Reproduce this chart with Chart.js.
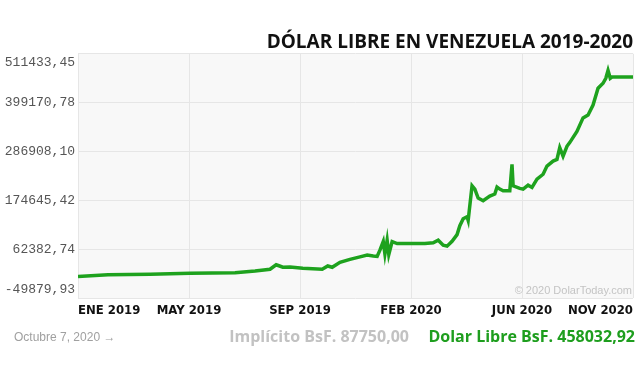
<!DOCTYPE html>
<html>
<head>
<meta charset="utf-8">
<script src="https://cdn.jsdelivr.net/npm/chart.js@4"></script>
<style>
  html, body { margin: 0; padding: 0; background: #fff; }
</style>
</head>
<body>
<canvas id="dolarLibreChart" width="640" height="376"></canvas>
<script>
// position on the time axis (0 = ENE 2019, 100 = NOV 2020) and price in BsS
const dayIndex = [
  0, 5.4, 13, 20.2, 28.3, 31.9, 34.6, 35.7, 36.2, 36.9,
  38.2, 40.5, 44.0, 45.0, 45.8, 47.2, 49.0, 50.8, 52.1, 53.2,
  53.9, 54.4, 55.0, 55.3, 55.7, 56.0, 56.6, 57.5, 59.8, 62.5,
  64.0, 64.9, 65.8, 66.5, 67.4, 68.3, 68.8, 69.4, 70.1, 70.3,
  71.0, 71.5, 72.1, 73.0, 74.2, 75.1, 75.5, 76.0, 76.6, 77.8,
  78.2, 78.4, 79.6, 80.2, 81.1, 81.8, 82.7, 83.8, 84.5, 85.6,
  86.3, 86.8, 87.4, 88.1, 88.6, 89.9, 91.0, 91.9, 92.8, 93.7,
  94.6, 95.1, 95.5, 95.9, 96.2, 100
];
const dolarLibre = [
  500, 4140, 5700, 8000, 9140, 13220, 17080, 27290, 25020, 21620,
  22300, 19350, 17080, 24570, 21620, 32970, 39780, 45450, 49540, 47270,
  46580, 60880, 80630, 52000, 83580, 51000, 80630, 76090, 76090, 76090,
  77680, 83580, 72240, 69970, 81320, 96520, 116950, 132840, 137380, 128980,
  208430, 200940, 180510, 174380, 185050, 189590, 205480, 200940, 197080, 197080,
  257690, 208430, 202530, 200940, 210020, 204800, 223640, 234990, 253830, 265180,
  269040, 296280, 276530, 299230, 307630, 333280, 364370, 371180, 393880, 432470,
  443820, 455170, 473330, 455170, 458032.92, 458032.92
];
const xTickPos = [0, 20, 40, 60, 80, 100];
const xTickLabels = ['ENE 2019', 'MAY 2019', 'SEP 2019', 'FEB 2020', 'JUN 2020', 'NOV 2020'];
const yTickValues = [-49879.93, 62382.74, 174645.42, 286908.10, 399170.78, 511433.45];
const yTickLabels = ['-49879,93', '62382,74', '174645,42', '286908,10', '399170,78', '511433,45'];

const plotBackground = {
  id: 'plotBackground',
  beforeDraw(chart) {
    const a = chart.chartArea;
    const ctx = chart.ctx;
    ctx.save();
    ctx.fillStyle = '#f8f8f8';
    ctx.fillRect(a.left, a.top, a.right - a.left, a.bottom - a.top);
    ctx.restore();
  }
};

// y labels, the outer two are pulled inside the plot like on the original
const yLabels = {
  id: 'yLabels',
  afterDraw(chart) {
    const ctx = chart.ctx;
    const y = chart.scales.y;
    ctx.save();
    ctx.font = '13px "Liberation Mono", monospace';
    ctx.fillStyle = '#555';
    ctx.textAlign = 'right';
    ctx.textBaseline = 'middle';
    yTickValues.forEach((v, i) => {
      let py = y.getPixelForValue(v);
      py = Math.min(Math.max(py, y.top + 8.5), y.bottom - 8.8);
      ctx.fillText(yTickLabels[i], 75, py);
    });
    ctx.restore();
  }
};

const extraText = {
  id: 'extraText',
  afterDraw(chart) {
    const ctx = chart.ctx;
    const a = chart.chartArea;
    ctx.save();
    ctx.textBaseline = 'middle';
    ctx.textAlign = 'right';
    ctx.fillStyle = '#c4c4c4';
    ctx.font = '11px "Liberation Sans", Arial, sans-serif';
    ctx.fillText('\u00a9 2020 DolarToday.com', a.right - 1, a.bottom - 7);

    ctx.textAlign = 'left';
    ctx.fillStyle = '#a0a0a0';
    ctx.font = '12px "Liberation Sans", Arial, sans-serif';
    ctx.fillText('Octubre 7, 2020 \u2192', 14, 338);

    ctx.textAlign = 'right';
    ctx.font = 'bold 16px "Open Sans", sans-serif';
    ctx.fillStyle = '#1e9e1e';
    ctx.fillText('Dolar Libre BsF. 458032,92', 635, 337);
    ctx.fillStyle = '#c2c2c2';
    ctx.fillText('Impl\u00edcito BsF. 87750,00', 409, 337);
    ctx.restore();
  }
};

const data = {
  datasets: [{
    label: 'Dolar Libre',
    data: dayIndex.map((t, i) => ({ x: t, y: dolarLibre[i] })),
    borderColor: '#1ea21e',
    borderWidth: 3.5,
    pointRadius: 0,
    tension: 0,
    fill: false
  }]
};

const config = {
  type: 'line',
  data: data,
  options: {
    responsive: false,
    animation: false,
    layout: { padding: { top: 31, left: 78, right: 7, bottom: 54 } },
    plugins: {
      legend: { display: false },
      tooltip: { enabled: false },
      title: {
        display: true,
        text: 'D\u00d3LAR LIBRE EN VENEZUELA 2019-2020',
        align: 'end',
        color: '#111',
        font: { family: '"Open Sans"', weight: 'bold', size: 19 },
        padding: { top: 0, bottom: 0 }
      }
    },
    scales: {
      x: {
        type: 'linear',
        min: 0,
        max: 100,
        afterBuildTicks: (axis) => { axis.ticks = xTickPos.map(v => ({ value: v })); },
        grid: { color: '#e6e6e6', drawTicks: false },
        border: { display: false },
        ticks: {
          callback: (v, i) => xTickLabels[i],
          align: 'inner',
          autoSkip: false,
          maxRotation: 0,
          padding: 4,
          color: '#111',
          font: { family: '"DejaVu Sans Condensed", Roboto, sans-serif', weight: 'bold', size: 13 }
        }
      },
      y: {
        min: yTickValues[0],
        max: yTickValues[yTickValues.length - 1],
        afterBuildTicks: (axis) => { axis.ticks = yTickValues.map(v => ({ value: v })); },
        grid: { color: '#e6e6e6', drawTicks: false },
        border: { display: false },
        ticks: { display: false }
      }
    }
  },
  plugins: [plotBackground, yLabels, extraText]
};

const dolarLibreChart = new Chart(document.getElementById('dolarLibreChart'), config);
</script>
</body>
</html>
